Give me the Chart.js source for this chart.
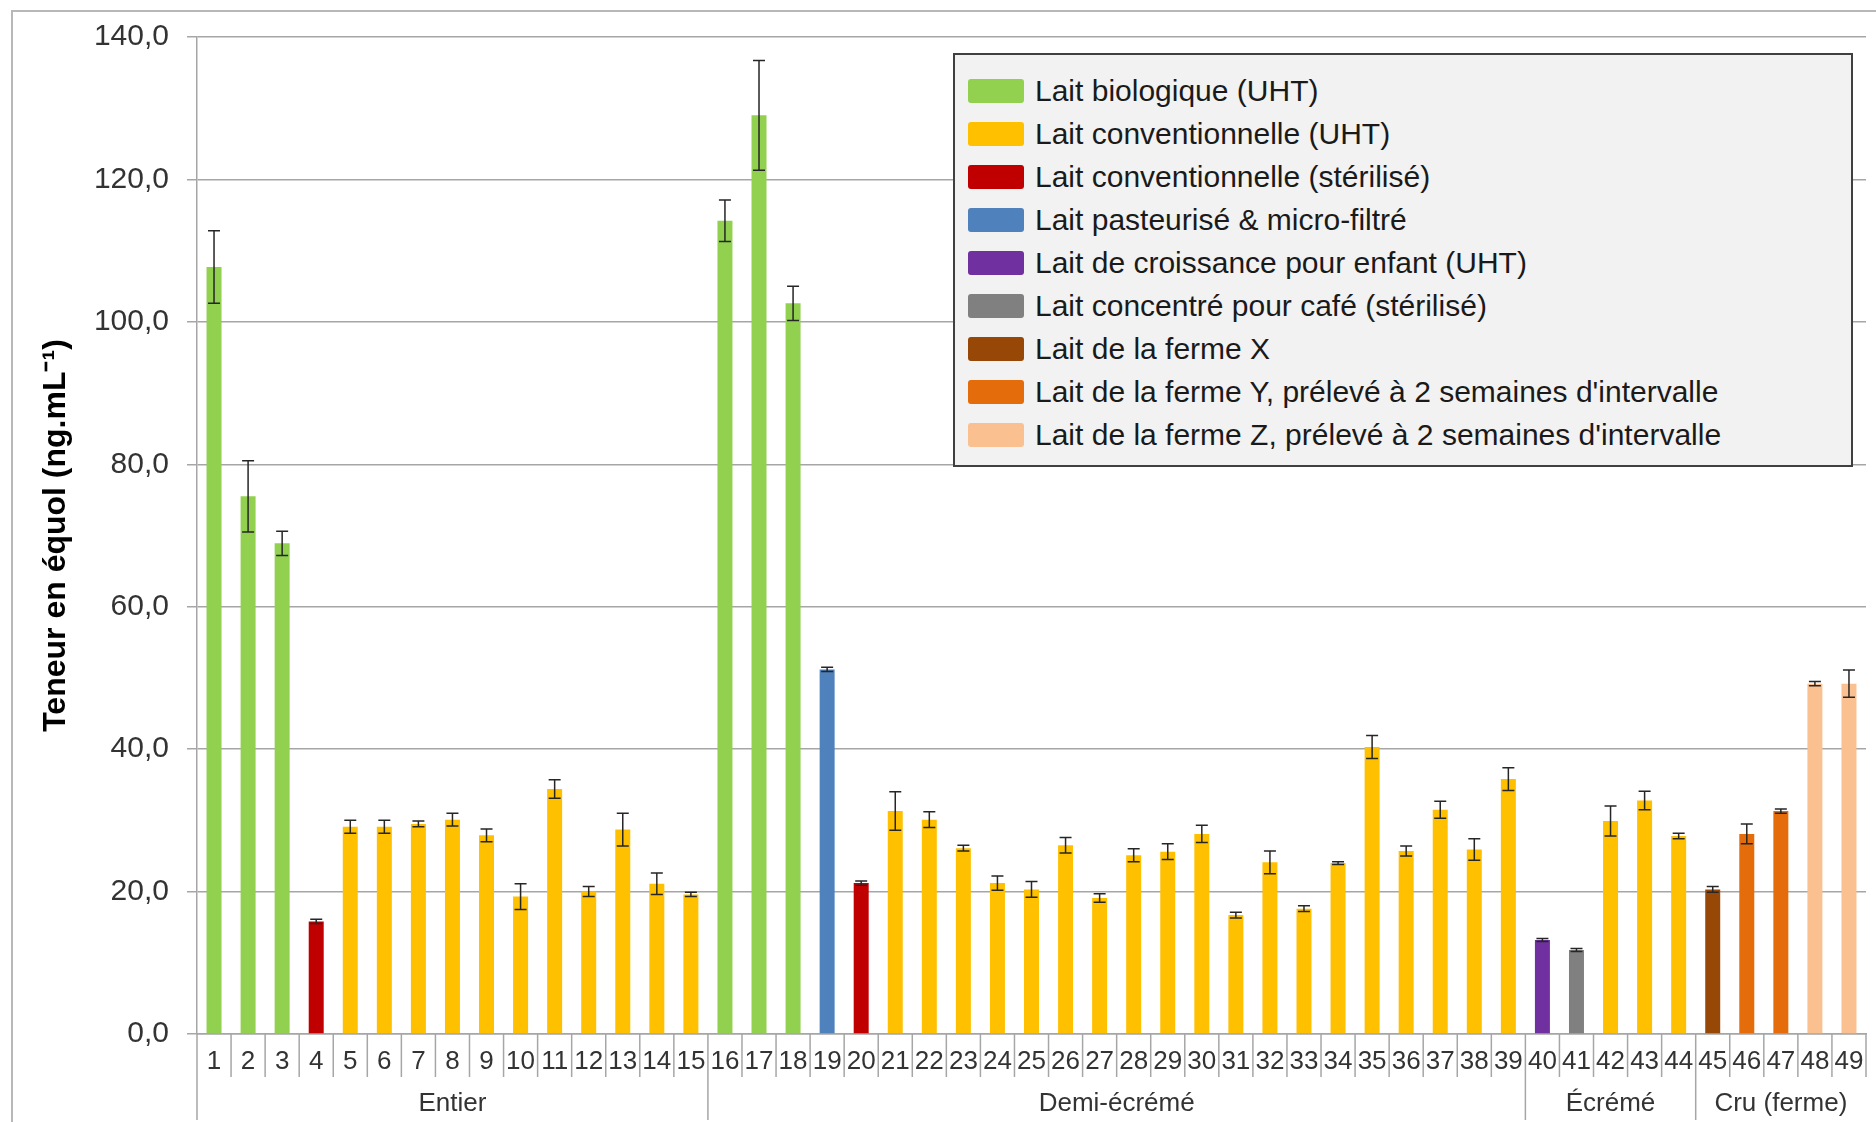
<!DOCTYPE html>
<html>
<head>
<meta charset="utf-8">
<script src="https://cdn.jsdelivr.net/npm/chart.js@4/dist/chart.umd.min.js"></script>
<style>
  body { margin: 0; background: #fff; font-family: "Liberation Sans", Arial, sans-serif; }
  #wrap { position: relative; width: 1876px; height: 1122px; overflow: hidden; }
  #frame { position: absolute; left: 11px; top: 10px; width: 1900px; height: 1200px;
           border-left: 2px solid #b8b8b8; border-top: 2px solid #b8b8b8; pointer-events: none; }
  #legend { position: absolute; left: 953px; top: 53px; width: 900px; height: 414px;
            background: #f2f2f2; border: 2px solid #404040; padding-top: 14px; box-sizing: border-box; }
  .item { height: 43.1px; display: flex; align-items: center; font-size: 30px; color: #1a1a1a; }
  .sw { width: 56px; height: 24px; margin-left: 13px; margin-right: 11px; border-radius: 3px; flex: none; }
</style>
</head>
<body>
<div id="wrap">
  <canvas id="chart" width="1876" height="1122"></canvas>
  <div id="frame"></div>
  <div id="legend"></div>
</div>
<script>
const categories = ['1','2','3','4','5','6','7','8','9','10','11','12','13','14','15','16','17','18','19','20',
  '21','22','23','24','25','26','27','28','29','30','31','32','33','34','35','36','37','38','39','40',
  '41','42','43','44','45','46','47','48','49'];

// teneur en équol (ng/mL), moyenne et écart-type
const values = [107.7, 75.5, 68.9, 15.8, 29.1, 29.1, 29.5, 30.1, 27.9, 19.3,
  34.4, 20.0, 28.7, 21.1, 19.6, 114.2, 129.0, 102.6, 51.2, 21.2,
  31.3, 30.1, 26.1, 21.2, 20.3, 26.5, 19.1, 25.1, 25.6, 28.1,
  16.7, 24.1, 17.6, 24.0, 40.3, 25.7, 31.5, 25.9, 35.8, 13.2,
  11.8, 29.9, 32.8, 27.8, 20.3, 28.1, 31.3, 49.2, 49.2];
const errors = [5.1, 5.0, 1.7, 0.3, 0.9, 0.9, 0.4, 0.9, 0.9, 1.8,
  1.3, 0.7, 2.3, 1.5, 0.3, 2.9, 7.7, 2.4, 0.3, 0.3,
  2.7, 1.1, 0.4, 1.0, 1.1, 1.1, 0.6, 0.9, 1.1, 1.2,
  0.4, 1.6, 0.4, 0.2, 1.6, 0.7, 1.2, 1.5, 1.6, 0.2,
  0.2, 2.1, 1.3, 0.4, 0.4, 1.4, 0.3, 0.3, 1.9];

// index du type de lait pour chaque échantillon
const types = [0, 0, 0, 2, 1, 1, 1, 1, 1, 1,
  1, 1, 1, 1, 1, 0, 0, 0, 3, 2,
  1, 1, 1, 1, 1, 1, 1, 1, 1, 1,
  1, 1, 1, 1, 1, 1, 1, 1, 1, 4,
  5, 1, 1, 1, 6, 7, 7, 8, 8];

const typeNames = [
  'Lait biologique (UHT)',
  'Lait conventionnelle (UHT)',
  'Lait conventionnelle (stérilisé)',
  'Lait pasteurisé & micro-filtré',
  'Lait de croissance pour enfant (UHT)',
  'Lait concentré pour café (stérilisé)',
  'Lait de la ferme X',
  'Lait de la ferme Y, prélevé à 2 semaines d\'intervalle',
  'Lait de la ferme Z, prélevé à 2 semaines d\'intervalle'
];
const typeColors = ['#92d050', '#ffc000', '#c00000', '#4f81bd', '#7030a0', '#808080', '#974706', '#e46c0a', '#fac090'];

const groups = ['Entier', 'Demi-écrémé', 'Écrémé', 'Cru (ferme)'];
const groupSizes = [15, 24, 5, 5];

const FONT = '"Liberation Sans", Arial, sans-serif';

const datasets = typeNames.map((name, t) => ({
  label: name,
  data: values.map((v, i) => types[i] === t ? v : null),
  backgroundColor: typeColors[t],
  borderWidth: 0
}));

const errorBars = {
  id: 'errorBars',
  afterDatasetsDraw(chart) {
    const ctx = chart.ctx, x = chart.scales.x, y = chart.scales.y;
    ctx.save();
    ctx.strokeStyle = '#262626';
    ctx.lineWidth = 1.5;
    values.forEach((v, i) => {
      const px = x.getPixelForValue(i);
      const top = y.getPixelForValue(v + errors[i]);
      const bot = y.getPixelForValue(v - errors[i]);
      ctx.beginPath();
      ctx.moveTo(px, top); ctx.lineTo(px, bot);
      ctx.moveTo(px - 6, top); ctx.lineTo(px + 6, top);
      ctx.moveTo(px - 6, bot); ctx.lineTo(px + 6, bot);
      ctx.stroke();
    });
    ctx.restore();
  }
};

const groupAxis = {
  id: 'groupAxis',
  afterDraw(chart) {
    const ctx = chart.ctx, x = chart.scales.x;
    const base = chart.chartArea.bottom;
    const half = (x.getPixelForValue(1) - x.getPixelForValue(0)) / 2;
    const bounds = [0];
    groupSizes.forEach(n => bounds.push(bounds[bounds.length - 1] + n));
    ctx.save();
    ctx.strokeStyle = '#a6a6a6';
    ctx.lineWidth = 1.5;
    for (let i = 0; i <= categories.length; i++) {
      const px = x.getPixelForValue(i) - half;
      const long = bounds.includes(i) && i < categories.length;
      ctx.beginPath();
      ctx.moveTo(px, base);
      ctx.lineTo(px, long ? 1120 : base + 43);
      ctx.stroke();
    }
    ctx.fillStyle = '#333333';
    ctx.font = '26px ' + FONT;
    ctx.textAlign = 'center';
    ctx.textBaseline = 'middle';
    groups.forEach((g, k) => {
      const a = x.getPixelForValue(bounds[k]) - half;
      const b = x.getPixelForValue(bounds[k + 1] - 1) + half;
      ctx.fillText(g, (a + b) / 2, 1104);
    });
    ctx.restore();
  }
};

const chart = new Chart(document.getElementById('chart'), {
  type: 'bar',
  data: { labels: categories, datasets: datasets },
  options: {
    responsive: false,
    animation: false,
    datasets: { bar: { grouped: false, categoryPercentage: 1, barPercentage: 0.44, skipNull: true } },
    layout: { padding: { left: 12, top: 37, right: 10, bottom: 0 } },
    plugins: { legend: { display: false }, tooltip: { enabled: false } },
    scales: {
      x: {
        grid: { display: false, drawTicks: false },
        border: { color: '#a6a6a6', width: 1.5 },
        ticks: { color: '#333333', font: { family: FONT, size: 26 }, padding: 12, maxRotation: 0, autoSkip: false },
        afterFit(s) { s.height = 88; }
      },
      y: {
        min: 0, max: 140,
        grid: { color: '#a6a6a6', lineWidth: 1.5, tickLength: 10 },
        border: { color: '#a6a6a6', width: 1.5 },
        ticks: {
          stepSize: 20, padding: 18, color: '#333333', font: { family: FONT, size: 30 },
          callback: v => v.toFixed(1).replace('.', ',')
        },
        title: {
          display: true, text: 'Teneur en équol (ng.mL⁻¹)', color: '#000000',
          font: { family: FONT, size: 32, weight: 'bold' }, padding: { top: 25, bottom: 0 }
        },
        afterFit(s) { s.width = 185; }
      }
    }
  },
  plugins: [errorBars, groupAxis]
});

const legend = document.getElementById('legend');
chart.data.datasets.forEach(ds => {
  const row = document.createElement('div');
  row.className = 'item';
  const sw = document.createElement('span');
  sw.className = 'sw';
  sw.style.background = ds.backgroundColor;
  const txt = document.createElement('span');
  txt.textContent = ds.label;
  row.appendChild(sw);
  row.appendChild(txt);
  legend.appendChild(row);
});
</script>
</body>
</html>
